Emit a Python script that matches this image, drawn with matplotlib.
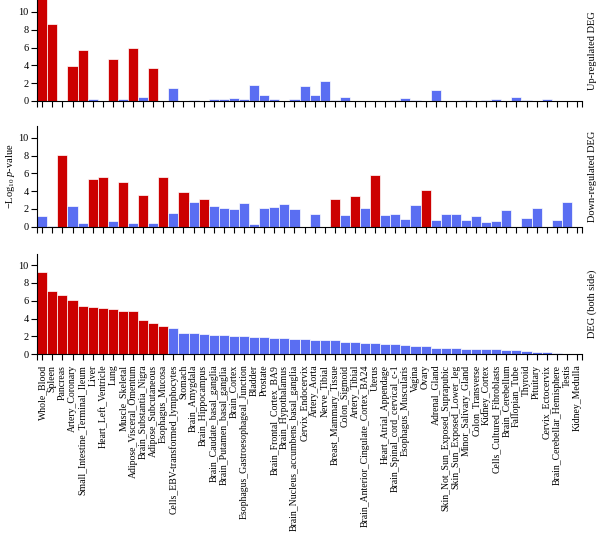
import numpy as np
import matplotlib
matplotlib.use('Agg')
import matplotlib.pyplot as plt

plt.rcParams['font.family'] = ['Liberation Serif', 'DejaVu Serif']
plt.rcParams['mathtext.fontset'] = 'custom'
plt.rcParams['mathtext.rm'] = 'Liberation Serif'
plt.rcParams['mathtext.it'] = 'Liberation Serif:italic'

# tissues in plotting order
tissues = [
    "Whole_Blood", "Spleen", "Pancreas", "Artery_Coronary",
    "Small_Intestine_Terminal_Ileum", "Liver", "Heart_Left_Ventricle", "Lung",
    "Muscle_Skeletal", "Adipose_Visceral_Omentum", "Brain_Substantia_Nigra",
    "Adipose_Subcutaneous", "Esophagus_Mucosa", "Cells_EBV-transformed_lymphocytes",
    "Stomach", "Brain_Amygdala", "Brain_Hippocampus", "Brain_Caudate_basal_ganglia",
    "Brain_Putamen_basal_ganglia", "Brain_Cortex", "Esophagus_Gastroesophageal_Junction",
    "Bladder", "Prostate", "Brain_Frontal_Cortex_BA9", "Brain_Hypothalamus",
    "Brain_Nucleus_accumbens_basal_ganglia", "Cervix_Endocervix", "Artery_Aorta",
    "Nerve_Tibial", "Breast_Mammary_Tissue", "Colon_Sigmoid", "Artery_Tibial",
    "Brain_Anterior_Cingulate_Cortex_BA24", "Uterus", "Heart_Atrial_Appendage",
    "Brain_Spinal_cord_cervical_c-1", "Esophagus_Muscularis", "Vagina", "Ovary",
    "Adrenal_Gland", "Skin_Not_Sun_Exposed_Suprapubic", "Skin_Sun_Exposed_Lower_leg",
    "Minor_Salivary_Gland", "Colon_Transverse", "Kidney_Cortex",
    "Cells_Cultured_Fibroblasts", "Brain_Cerebellum", "Fallopian_Tube", "Thyroid",
    "Pituitary", "Cervix_Ectocervix", "Brain_Cerebellar_Hemisphere", "Testis",
    "Kidney_Medulla",
]

# -log10 p-values
up_deg = [
    12.0, 8.65, 0, 3.9, 5.76, 0.22, 0, 4.72, 0.22, 5.92,
    0.45, 3.67, 0, 1.5, 0, 0.1, 0, 0.2, 0.2, 0.38,
    0.22, 1.8, 0.7, 0.22, 0, 0.2, 1.7, 0.7, 2.2, 0.1,
    0.45, 0, 0, 0, 0, 0.1, 0.37, 0.1, 0, 1.27,
    0, 0, 0.12, 0, 0.1, 0.18, 0, 0.4, 0.1, 0,
    0.18, 0, 0, 0,
]
down_deg = [
    1.24, 0.1, 8.1, 2.3, 0.4, 5.4, 5.56, 0.6, 5.07, 0.4,
    3.53, 0.45, 5.56, 1.6, 3.95, 2.78, 3.08, 2.3, 2.14, 2.0,
    2.63, 0.34, 2.14, 2.25, 2.55, 1.95, 0, 1.4, 0, 3.16,
    1.28, 3.5, 2.07, 5.83, 1.35, 1.43, 0.86, 2.48, 4.17, 0.71,
    1.39, 1.43, 0.75, 1.17, 0.56, 0.64, 1.84, 0, 0.94, 2.1,
    0, 0.75, 2.78, 0,
]
both_deg = [
    9.25, 7.12, 6.7, 6.07, 5.43, 5.28, 5.17, 5.06, 4.85, 4.83,
    3.82, 3.48, 3.18, 2.92, 2.43, 2.4, 2.25, 2.17, 2.13, 2.1,
    2.06, 1.98, 1.9, 1.85, 1.78, 1.7, 1.67, 1.62, 1.58, 1.55,
    1.42, 1.36, 1.31, 1.22, 1.17, 1.12, 1.05, 0.97, 0.94, 0.75,
    0.75, 0.71, 0.64, 0.6, 0.56, 0.56, 0.49, 0.45, 0.34, 0.3,
    0.22, 0.15, 0.03, 0.02,
]

panels = [("Up-regulated DEG", up_deg),
          ("Down-regulated DEG", down_deg),
          ("DEG (both side)", both_deg)]

# Bonferroni threshold over tissues
threshold = -np.log10(0.05 / len(tissues))
RED = '#cc0000'
BLUE = '#5a6ef2'

fig = plt.figure(figsize=(6, 5.4), dpi=100)
x = np.arange(len(tissues))
left, width, height = 0.062, 0.908, 0.1865
bottoms = [0.813, 0.58, 0.344]

for i, (name, vals) in enumerate(panels):
    ax = fig.add_axes([left, bottoms[i], width, height])
    vals = np.array(vals)
    colors = [RED if v > threshold else BLUE for v in vals]
    ax.bar(x, vals, width=1.0, color=colors, edgecolor='white', linewidth=0.5)
    ax.set_xlim(-0.5, len(tissues) - 0.5)
    ax.set_ylim(0, 11.3)
    ax.set_yticks([0, 2, 4, 6, 8, 10])
    ax.set_xticks(x)
    ax.set_xticks([-0.5, len(tissues) - 0.5], minor=True)
    ax.tick_params(axis='x', which='both', length=4, width=0.8)
    ax.tick_params(axis='y', length=4, width=0.8, labelsize=7.5, pad=2)
    for s in ['top', 'right']:
        ax.spines[s].set_visible(False)
    if i == 2:
        ax.set_xticklabels(tissues, rotation=90, fontsize=7)
    else:
        ax.set_xticklabels([])
    if i == 1:
        ax.set_ylabel(r'$-$Log$_{10}$ $p$-value', fontsize=7.5, labelpad=1)
    fig.text(0.987, bottoms[i] + height / 2, name, rotation=90,
             ha='center', va='center', fontsize=7.5)

fig.savefig('out.png', dpi=100)
